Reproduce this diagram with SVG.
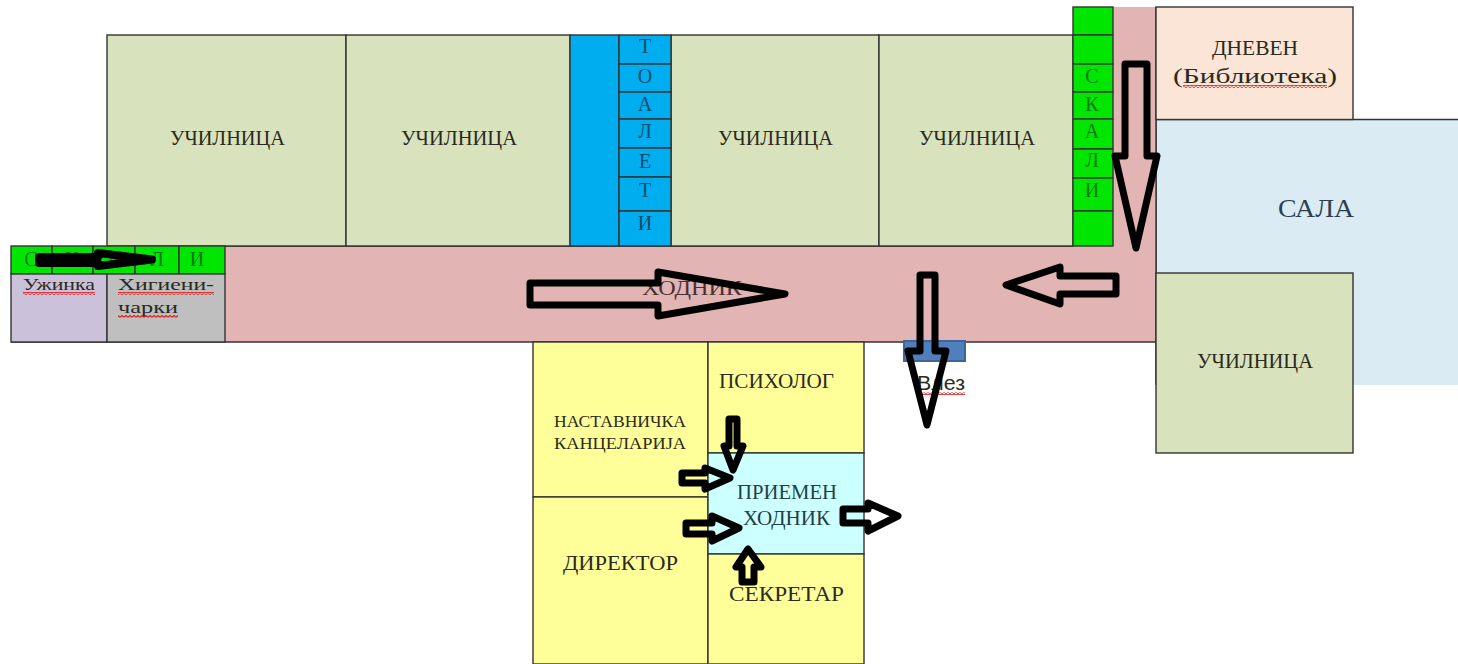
<svg xmlns="http://www.w3.org/2000/svg" width="1458" height="664" viewBox="0 0 1458 664">
<style>
.r{stroke:#333;stroke-width:1.4}
.cls{fill:#d8e2bc}.wc{fill:#00aeef}.st{fill:#00e600}.yel{fill:#ffff99}
text{font-family:"Liberation Serif","Liberation Mono",serif;fill:#2a2a20;font-size:20px;text-anchor:start}
.sm{font-size:17px}
.c{text-anchor:middle;font-size:20px}
.wct{fill:#0b4a6e}.stt{fill:#0a7a12}
.a{fill:none;stroke:#000;stroke-width:7;stroke-linejoin:round}
.b{stroke-width:7}
.w{fill:url(#wavy)}
</style>
<defs>
<pattern id="wavy" width="4" height="3" patternUnits="userSpaceOnUse"><path d="M0 2.200L2 .6L4 2.200" fill="none" stroke="#e01818" stroke-width="1.200"/></pattern>
</defs>
<rect width="1458" height="664" fill="#fff"/>

<g id="sala"><path d="M1458 119.500H1156V385H1458Z" fill="#daebf3"/><path d="M1458 119.500H1156V385" fill="none" stroke="#333" stroke-width="1.400"/>
<text x="1278" y="217" textLength="76" lengthAdjust="spacingAndGlyphs" style="font-size:26px;fill:#2b3f4f">САЛА</text></g>

<g id="hodnik"><path d="M225 246H1113V7H1156V342H225Z" fill="#e2b4b4"/><path d="M225 246H1073M1156 7V342H11" fill="none" stroke="#333" stroke-width="1.400"/>
<text x="642" y="295" textLength="100" lengthAdjust="spacingAndGlyphs" style="fill:#4a3030">ХОДНИК</text></g>

<g id="ucilnica1"><rect class="r cls" x="107" y="35" width="239" height="211"/><text x="170" y="145" textLength="115" lengthAdjust="spacingAndGlyphs">УЧИЛНИЦА</text></g>
<g id="ucilnica2"><rect class="r cls" x="346" y="35" width="224" height="211"/><text x="401" y="145" textLength="116" lengthAdjust="spacingAndGlyphs">УЧИЛНИЦА</text></g>
<g id="ucilnica3"><rect class="r cls" x="671" y="35" width="208" height="211"/><text x="718" y="145" textLength="115" lengthAdjust="spacingAndGlyphs">УЧИЛНИЦА</text></g>
<g id="ucilnica4"><rect class="r cls" x="879" y="35" width="194" height="211"/><text x="919" y="145" textLength="116" lengthAdjust="spacingAndGlyphs">УЧИЛНИЦА</text></g>

<g id="toaleti">
<rect class="r wc" x="570" y="35" width="49" height="211"/>
<rect class="r wc" x="619" y="35" width="52" height="29"/><rect class="r wc" x="619" y="64" width="52" height="28"/><rect class="r wc" x="619" y="92" width="52" height="27"/><rect class="r wc" x="619" y="119" width="52" height="29"/><rect class="r wc" x="619" y="148" width="52" height="29"/><rect class="r wc" x="619" y="177" width="52" height="34"/><rect class="r wc" x="619" y="211" width="52" height="35"/>
<text class="c wct" x="645" y="53">Т</text><text class="c wct" x="645" y="83">О</text><text class="c wct" x="645" y="111">А</text><text class="c wct" x="645" y="138">Л</text><text class="c wct" x="645" y="168">Е</text><text class="c wct" x="645" y="197">Т</text><text class="c wct" x="645" y="230">И</text>
</g>

<g id="skali-desno">
<rect class="r st" x="1073" y="7" width="40" height="28"/><rect class="r st" x="1073" y="35" width="40" height="29"/><rect class="r st" x="1073" y="64" width="40" height="28"/><rect class="r st" x="1073" y="92" width="40" height="27"/><rect class="r st" x="1073" y="119" width="40" height="30"/><rect class="r st" x="1073" y="149" width="40" height="29"/><rect class="r st" x="1073" y="178" width="40" height="33"/><rect class="r st" x="1073" y="211" width="40" height="35"/>
<text class="c stt" x="1092" y="83">С</text><text class="c stt" x="1092" y="111">К</text><text class="c stt" x="1092" y="138">А</text><text class="c stt" x="1092" y="167">Л</text><text class="c stt" x="1092" y="197">И</text>
</g>

<g id="skali-levo">
<rect class="r st" x="11" y="246" width="41" height="28"/><rect class="r st" x="52" y="246" width="41" height="28"/><rect class="r st" x="93" y="246" width="42" height="28"/><rect class="r st" x="135" y="246" width="44" height="28"/><rect class="r st" x="179" y="246" width="46" height="28"/>
<text class="c stt" x="31" y="266">С</text><text class="c stt" x="72" y="266">К</text><text class="c stt" x="114" y="266">А</text><text class="c stt" x="157" y="266">Л</text><text class="c stt" x="197" y="266">И</text>
</g>

<g id="uzinka"><rect class="r" x="11" y="274" width="96" height="68" fill="#ccc1da"/><text class="sm" x="23" y="290" textLength="72" lengthAdjust="spacingAndGlyphs">Ужинка</text><rect class="w" x="23" y="292" width="72" height="3"/></g>
<g id="higienicarki"><rect class="r" x="107" y="274" width="118" height="68" fill="#bfbfbf"/><text class="sm" x="118" y="290" textLength="96" lengthAdjust="spacingAndGlyphs">Хигиени-</text><rect class="w" x="118" y="292" width="96" height="3"/><text class="sm" x="118" y="313" textLength="60" lengthAdjust="spacingAndGlyphs">чарки</text><rect class="w" x="118" y="315" width="60" height="3"/></g>

<g id="dneven"><rect class="r" x="1156" y="7" width="197" height="112.500" fill="#fbe5d6"/><text x="1212" y="55" textLength="86" lengthAdjust="spacingAndGlyphs">ДНЕВЕН</text><text x="1173" y="83" textLength="164" lengthAdjust="spacingAndGlyphs">(Библиотека)</text><rect class="w" x="1183" y="85" width="144" height="3"/></g>

<g id="ucilnica5"><rect class="r cls" x="1156" y="273" width="197" height="180"/><text x="1197" y="368" textLength="116" lengthAdjust="spacingAndGlyphs">УЧИЛНИЦА</text></g>

<g id="nastavnicka"><rect class="r yel" x="533" y="342" width="175" height="155"/><text class="sm" x="554" y="427" textLength="132" lengthAdjust="spacingAndGlyphs">НАСТАВНИЧКА</text><text class="sm" x="554" y="449" textLength="132" lengthAdjust="spacingAndGlyphs">КАНЦЕЛАРИЈА</text></g>
<g id="direktor"><rect class="r yel" x="533" y="497" width="175" height="167"/><text x="563" y="570" textLength="115" lengthAdjust="spacingAndGlyphs">ДИРЕКТОР</text></g>
<g id="psiholog"><rect class="r yel" x="708" y="342" width="156" height="111"/><text x="719" y="388" textLength="115" lengthAdjust="spacingAndGlyphs">ПСИХОЛОГ</text></g>
<g id="priemen"><rect class="r" x="708" y="453" width="156" height="101" fill="#ccffff"/><text x="737" y="499" textLength="100" lengthAdjust="spacingAndGlyphs" style="fill:#1f3f45">ПРИЕМЕН</text><text x="743" y="525" textLength="87" lengthAdjust="spacingAndGlyphs" style="fill:#1f3f45">ХОДНИК</text></g>
<g id="sekretar"><rect class="r yel" x="708" y="554" width="156" height="110"/><text x="729" y="601" textLength="115" lengthAdjust="spacingAndGlyphs">СЕКРЕТАР</text></g>

<g id="vlez"><rect x="904" y="341" width="61" height="20" fill="#4f7fbd" stroke="#3f6496" stroke-width="2"/><text x="917" y="390" textLength="48" lengthAdjust="spacingAndGlyphs" style="font-family:'Liberation Sans',Arial,sans-serif;font-size:20px">Влез</text><rect class="w" x="917" y="392" width="48" height="3"/></g>

<g id="connectors">
<path class="a" d="M1125 64H1147V156H1157L1136 248L1115 156H1125Z"/>
<path class="a" d="M530 283H658V272L785 294L658 316V305H530Z"/>
<path class="a" d="M1116 276H1060V267L1006 285L1060 304V294H1116Z"/>
<path class="a" d="M920 275H935V351H946L927 425L908 351H920Z"/>
<path class="a b" d="M729 419H737V446H743L733 470L724 446H729Z"/>
<path class="a b" d="M682 473H705V468L730 478L705 489V483H682Z"/>
<path class="a b" d="M686 523H712V516L739 528L712 541V534H686Z"/>
<path class="a b" d="M843 509H868V503L898 516L868 531V523H843Z"/>
<path class="a b" d="M742 582H754V567H761L748 549L736 567H742Z"/>
<path class="a" style="stroke-width:8" d="M39 257H98V253L152 259.500L98 266V263H39Z"/>
</g>
</svg>
